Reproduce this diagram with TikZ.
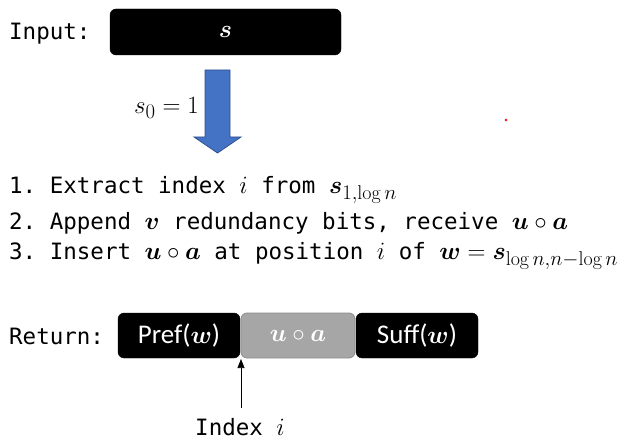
\documentclass[tikz,border=0pt]{standalone}
\usepackage{fontspec}
\usepackage{bm}
\setmonofont{DejaVu Sans Mono}
\newfontfamily\calib{Carlito}
\usetikzlibrary{arrows.meta}
\DeclareMathSizes{26}{26}{20}{15}
\definecolor{arrblue}{HTML}{4472C4}
\definecolor{arredge}{HTML}{2F528F}
\definecolor{midgrey}{HTML}{A6A6A6}
\definecolor{midedge}{HTML}{8C8C8C}
\newcommand\mth[1]{{\fontsize{26}{30}\selectfont$#1$}}
\tikzset{
  mono/.style={anchor=west, inner sep=0pt, font=\fontsize{22.5}{26}\selectfont\ttfamily},
  blk/.style={fill=black, draw=black, rounded corners=6pt, text=white, inner sep=0pt,
     font=\fontsize{27}{31}\selectfont\calib},
  gry/.style={fill=midgrey, draw=midedge, line width=0.8pt, rounded corners=6pt, text=white, inner sep=0pt,
     font=\fontsize{27}{31}\selectfont\calib},
}
\begin{document}
\begin{tikzpicture}[x=1pt,y=-1pt]
\useasboundingbox (0,0) rectangle (635,441);
% input
\node[mono] (inlbl) at (9,34) {Input:};
\node[blk, minimum width=231, minimum height=46] (inbox) at (225.5,32) {\mth{\bm{s}}};
% block arrow
\draw[fill=arrblue, draw=arredge, line width=0.8pt]
  (205,70) -- (230,70) -- (230,137) -- (241,137) -- (217.5,153) -- (194,137) -- (205,137) -- cycle;
\node[anchor=east, inner sep=0pt] (s0) at (199,108) {\mth{s_0 = 1}};
% steps
\node[mono] (l1) at (9,190) {1. Extract index \mth{i} from \mth{\bm{s}_{1,\log n}}};
\node[mono] (l2) at (9,223) {2. Append \mth{\bm{v}} redundancy bits, receive \mth{\bm{u}\circ\bm{a}}};
\node[mono] (l3) at (9,256) {3. Insert \mth{\bm{u}\circ\bm{a}} at position \mth{i} of \mth{\bm{w}=\bm{s}_{\log n,n-\log n}}};
% return
\node[mono] (retlbl) at (9,336) {Return:};
\node[blk, minimum width=122, minimum height=45] (pref) at (179,335.5) {Pref(\mth{\bm{w}})};
\node[gry, minimum width=114, minimum height=45] (ua) at (298,335.5) {\mth{\bm{u}\circ\bm{a}}};
\node[blk, minimum width=122, minimum height=45] (suff) at (417,335.5) {Suff(\mth{\bm{w}})};
% index arrow
\node[mono, anchor=center] (idx) at (240,427) {Index \mth{i}};
\coordinate (tip) at (241,359);
\draw[line width=0.7pt, -{Triangle[length=9pt,width=7pt]}] (241,408) -- (tip);
% red dot
\fill[red] (506,120) circle (1.4);
\end{tikzpicture}
\end{document}
